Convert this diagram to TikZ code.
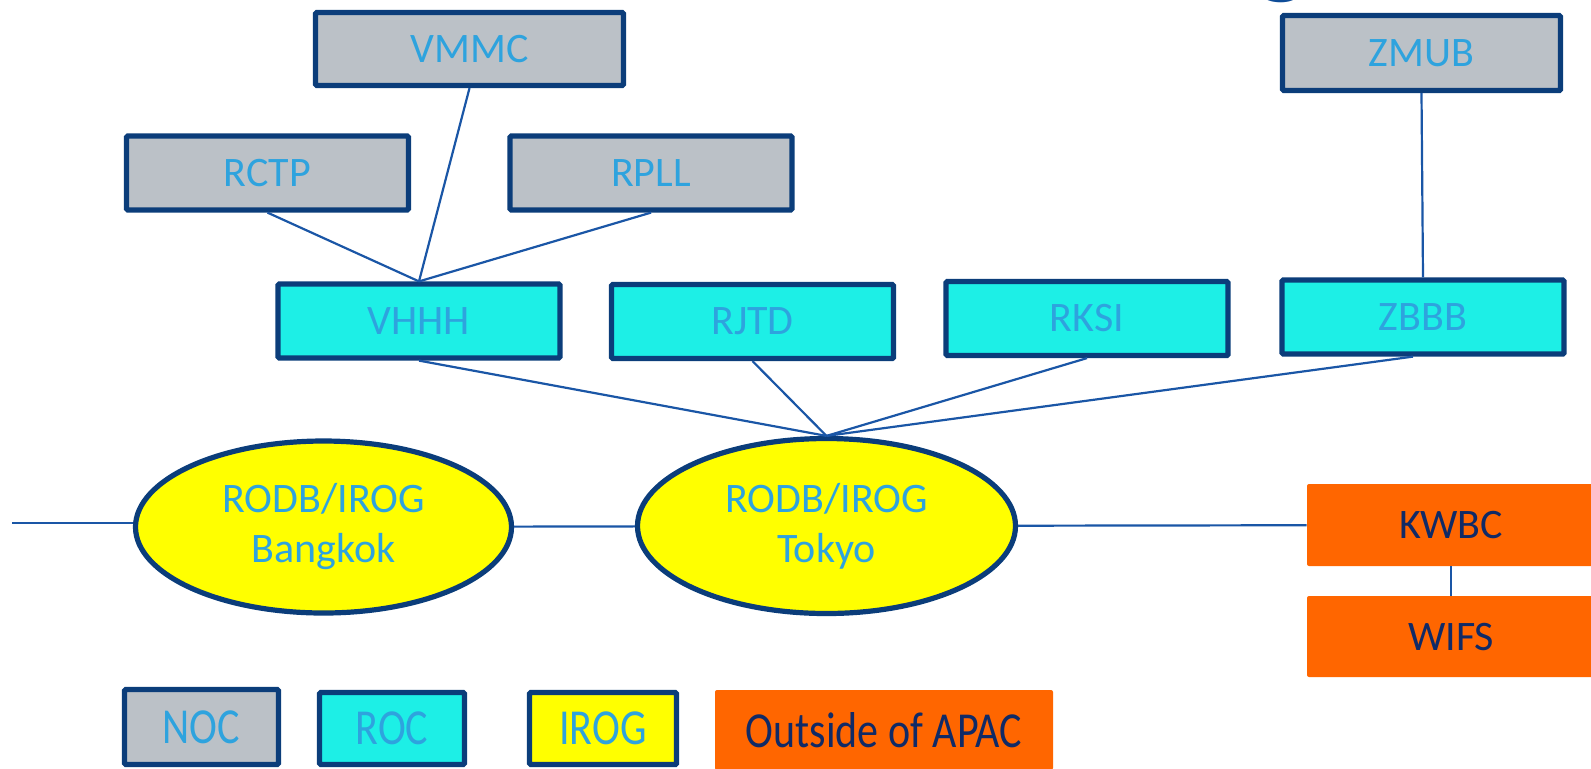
\documentclass[tikz,border=0pt]{standalone}
\usepackage{fontspec}
\setmainfont{Carlito}
\usetikzlibrary{shapes.geometric,positioning}
\definecolor{navy}{HTML}{0B3D7A}
\definecolor{linkblue}{HTML}{1A56A6}
\definecolor{txtblue}{HTML}{2EA3DE}
\definecolor{nocgray}{HTML}{BBC1C7}
\definecolor{roccyan}{HTML}{1DEFE6}
\definecolor{irogyellow}{HTML}{FFFF00}
\definecolor{outorange}{HTML}{FF6600}
\definecolor{darktxt}{HTML}{102A66}
\definecolor{titleblue}{HTML}{0E4C98}

\begin{document}
\begin{tikzpicture}[x=0.5pt,y=-0.5pt]
\tikzstyle{centre}=[rectangle, draw=navy, line width=2.6pt,
text=txtblue, font=\fontsize{21}{25}\selectfont,
inner sep=0pt, rounded corners=0.6pt,
minimum width=141pt, minimum height=37pt]
\tikzstyle{noc}=[centre, fill=nocgray]
\tikzstyle{roc}=[centre, fill=roccyan]
\tikzstyle{irogbox}=[centre, fill=irogyellow]
\tikzstyle{irog}=[ellipse, draw=navy, line width=2.6pt, fill=irogyellow,
text=txtblue, font=\fontsize{21}{25}\selectfont, align=center,
inner sep=0pt, minimum width=188pt, minimum height=86pt]
\tikzstyle{outside}=[rectangle, fill=outorange, rounded corners=1pt,
text=darktxt, font=\fontsize{21}{25}\selectfont, inner sep=0pt,
minimum width=144pt, minimum height=41pt]
\tikzstyle{link}=[draw=linkblue, line width=1.1pt]
\useasboundingbox (0,0) rectangle (1591,768);

% title fragment
\node[anchor=base, text=titleblue, font=\fontsize{54}{56}\selectfont\bfseries,
inner sep=0pt] (title) at (1282,-16) {g};

% NOC and ROC
\node[noc, minimum width=154pt, minimum height=36.5pt] at (469.5,49) (vmmc) {VMMC};
\node[noc, minimum width=139pt, minimum height=37.5pt] at (1421.5,53) (zmub) {ZMUB};
\node[noc] at (267.5,173) (rctp) {RCTP};
\node[noc] at (651,173) (rpll) {RPLL};
\node[roc] at (419,321) (vhhh) {VHHH};
\node[roc] at (752.5,321.5) (rjtd) {RJTD};
\node[roc] at (1087,318.5) (rksi) {RKSI};
\node[roc] at (1423,317) (zbbb) {ZBBB};

% IROG
\node[irog] at (323.5,527) (bkk) {RODB/IROG\\Bangkok};
\node[irog, minimum width=189pt, minimum height=87.5pt] at (826.5,526) (tky) {RODB/IROG\\Tokyo};

% outside of APAC
\node[outside] at (1451,525) (kwbc) {KWBC};
\node[outside, minimum height=40.5pt] at (1451,636.5) (wifs) {WIFS};

% legend
\node[noc, minimum width=77pt, minimum height=37.5pt] at (201.5,727) (lnoc) {\scalebox{1}[1.2]{NOC}};
\node[roc, minimum width=72.5pt, minimum height=36pt] at (392,728.5) (lroc) {\scalebox{1}[1.2]{ROC}};
\node[irogbox, minimum width=73.5pt, minimum height=36pt] at (603,728.5) (lirog) {\scalebox{1}[1.2]{IROG}};
\node[outside, minimum width=169pt, minimum height=40pt] at (884,730) (lout) {\scalebox{1}[1.2]{Outside of APAC}};

\coordinate (lft) at (12,523);

\draw[link] (lft) -- (lft -| bkk.west);
\path[link] (bkk) edge (tky);
\path[link] (tky) edge (kwbc);
\path[link] (kwbc) edge (wifs);
\path[link] (zmub.south) edge (zbbb.north);
\path[link] (vmmc.south) edge (vhhh.north);
\path[link] (rctp.south) edge (vhhh.north);
\path[link] (rpll.south) edge (vhhh.north);
\path[link] (vhhh.south) edge (tky.north);
\path[link] (rjtd.south) edge (tky.north);
\path[link] (rksi.south) edge (tky.north);
\path[link] ([xshift=-5pt]zbbb.south) edge (tky.north);

\end{tikzpicture}
\end{document}
